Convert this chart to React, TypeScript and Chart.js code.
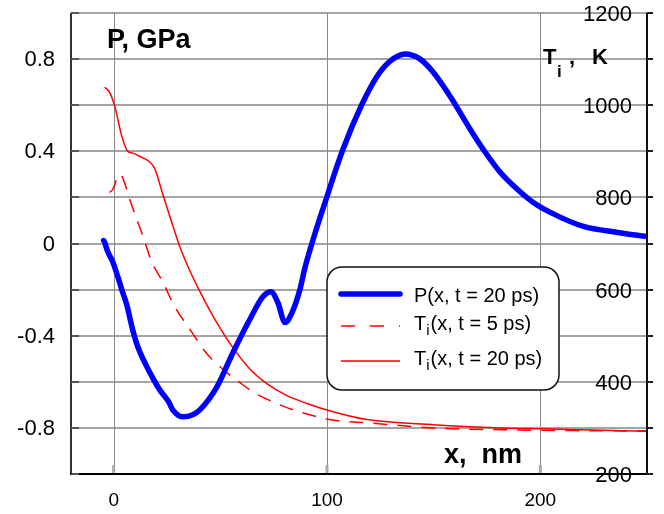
import React, { useEffect, useRef } from "react";
import { Chart, registerables } from "chart.js";

Chart.register(...registerables);

// ---- axes / ticks ----
const xTickValues = [0, 100, 200];
const pGridValues = [-1, -0.8, -0.6, -0.4, -0.2, 0, 0.2, 0.4, 0.6, 0.8, 1];
const pLabelValues = [0.8, 0.4, 0, -0.4, -0.8];
const tGridValues = [200, 300, 400, 500, 600, 700, 800, 900, 1000, 1100, 1200];
const tLabelValues = [1200, 1000, 800, 600, 400, 200];

// ---- P(x, t = 20 ps), GPa ----
const pX = [-4.7, -4.2, -2.8, -0.5, 1.9, 3.8, 6.1, 8.9, 11.3, 14.6, 18.3, 21.6, 25.8, 27.7, 32.4, 37.1, 40.4, 48.4, 55.9, 63.8, 70.0, 73.7, 77.0, 80.3, 83.6, 87.3, 89.7, 100, 107.5, 116.4, 123.5, 129.6, 136.6, 143.7, 149.8, 157.7, 167.1, 173.2, 181.2, 189.2, 196.7, 204.7, 220.2, 236.2, 250];
const pY = [0.013, 0.004, -0.035, -0.078, -0.143, -0.2, -0.265, -0.374, -0.448, -0.517, -0.583, -0.635, -0.687, -0.722, -0.752, -0.743, -0.722, -0.622, -0.474, -0.33, -0.23, -0.209, -0.257, -0.343, -0.3, -0.2, -0.104, 0.204, 0.409, 0.604, 0.726, 0.791, 0.822, 0.8, 0.743, 0.639, 0.496, 0.409, 0.309, 0.235, 0.178, 0.135, 0.074, 0.048, 0.03];

// ---- Ti(x, t = 5 ps), K ----
const ti5X = [-1.9, -0.5, 2.8, 4.2, 7.5, 13.1, 17.8, 23.0, 28.6, 36.0, 43.7, 53.1, 59.2, 65.3, 77.9, 90.6, 102.8, 118.8, 149.8, 181.2, 250];
const ti5Y = [811, 817, 850, 843, 796, 724, 661, 617, 563, 512, 461, 420, 398, 378, 350, 330, 317, 311, 300, 296, 293];

// ---- Ti(x, t = 20 ps), K ----
const ti20X = [-4.2, -1.9, 0.5, 3.8, 6.6, 8.9, 13.1, 16.0, 19.2, 23.0, 27.2, 31.0, 35.7, 40.4, 44.1, 48.4, 55.9, 63.8, 71.8, 81.2, 90.6, 102.8, 118.8, 149.8, 181.2, 200, 250];
const ti20Y = [1039, 1028, 998, 933, 900, 896, 887, 880, 863, 807, 746, 693, 641, 596, 563, 528, 474, 428, 396, 370, 353, 335, 318, 307, 300, 298, 293];

const FONT = "'Liberation Sans', Arial, sans-serif";

const seg = (ctx: any, x1: number, y1: number, x2: number, y2: number) => {
  ctx.beginPath();
  ctx.moveTo(x1, y1);
  ctx.lineTo(x2, y2);
  ctx.stroke();
};

const gridPlugin = {
  id: "hgrid",
  beforeDatasetsDraw(chart: any) {
    const { ctx, chartArea: ca, scales } = chart;
    const yP = scales.yP;
    const xs = scales.x;
    ctx.save();
    ctx.setLineDash([]);
    ctx.strokeStyle = "#a4a4a4";
    ctx.lineWidth = 2;
    pGridValues.forEach((v) => {
      const py = Math.round(yP.getPixelForValue(v));
      seg(ctx, ca.left, py, ca.right, py);
    });
    ctx.strokeStyle = "#8a8a8a";
    ctx.lineWidth = 1;
    xTickValues.forEach((v) => {
      const px = Math.round(xs.getPixelForValue(v)) + 0.5;
      seg(ctx, px, ca.top, px, ca.bottom);
    });
    ctx.restore();
  },
};

const overlayPlugin = {
  id: "overlay",
  afterDatasetsDraw(chart: any) {
    const { ctx, chartArea: ca, scales } = chart;
    const xs = scales.x;
    const yP = scales.yP;
    const yT = scales.yT;
    ctx.save();
    // axis lines
    ctx.lineCap = "butt";
    ctx.strokeStyle = "#333";
    ctx.lineWidth = 2;
    seg(ctx, ca.left, ca.top, ca.left, ca.bottom + 1);
    ctx.strokeStyle = "#111";
    seg(ctx, ca.right, ca.top, ca.right, ca.bottom + 1);
    ctx.strokeStyle = "#000";
    seg(ctx, ca.left - 1, ca.bottom, ca.right + 1, ca.bottom);
    // tick marks
    ctx.strokeStyle = "#555";
    ctx.lineWidth = 2;
    pGridValues.forEach((v) => {
      const py = Math.round(yP.getPixelForValue(v));
      seg(ctx, ca.left, py, ca.left + 8, py);
    });
    ctx.strokeStyle = "#222";
    tGridValues.forEach((v) => {
      const py = Math.round(yT.getPixelForValue(v));
      seg(ctx, ca.right, py, ca.right + 6, py);
    });
    ctx.strokeStyle = "#aaa";
    ctx.lineWidth = 3;
    xTickValues.forEach((v) => {
      const px = xs.getPixelForValue(v);
      seg(ctx, px, ca.bottom - 1, px, ca.bottom - 9);
    });

    // tick labels
    ctx.fillStyle = "#000";
    ctx.font = `22px ${FONT}`;
    ctx.textAlign = "right";
    ctx.textBaseline = "middle";
    pLabelValues.forEach((v) => {
      ctx.fillText(String(v), 55, yP.getPixelForValue(v) + 1);
    });
    tLabelValues.forEach((v) => {
      ctx.fillText(String(v), 632, yT.getPixelForValue(v) + 2);
    });
    ctx.textAlign = "center";
    ctx.font = `19px ${FONT}`;
    xTickValues.forEach((v) => {
      ctx.fillText(String(v), xs.getPixelForValue(v), 501);
    });

    // axis titles
    ctx.textBaseline = "alphabetic";
    ctx.textAlign = "left";
    ctx.font = `bold 27px ${FONT}`;
    ctx.fillText("P, GPa", 107, 48);
    ctx.fillText("x,  nm", 444, 463);
    ctx.font = `bold 22px ${FONT}`;
    ctx.fillText("T", 543, 64);
    ctx.fillText(",", 569, 64);
    ctx.fillText("K", 592, 64);
    ctx.font = `bold 17px ${FONT}`;
    ctx.fillText("i", 557, 77);

    // legend box
    const bx = 327, by = 267, bw = 232, bh = 123, r = 15;
    ctx.beginPath();
    ctx.moveTo(bx + r, by);
    ctx.lineTo(bx + bw - r, by);
    ctx.arcTo(bx + bw, by, bx + bw, by + r, r);
    ctx.lineTo(bx + bw, by + bh - r);
    ctx.arcTo(bx + bw, by + bh, bx + bw - r, by + bh, r);
    ctx.lineTo(bx + r, by + bh);
    ctx.arcTo(bx, by + bh, bx, by + bh - r, r);
    ctx.lineTo(bx, by + r);
    ctx.arcTo(bx, by, bx + r, by, r);
    ctx.closePath();
    ctx.fillStyle = "#fff";
    ctx.fill();
    ctx.strokeStyle = "#111";
    ctx.lineWidth = 1.5;
    ctx.stroke();

    // legend samples
    ctx.lineCap = "round";
    ctx.strokeStyle = "#0000ff";
    ctx.lineWidth = 5.5;
    seg(ctx, 341, 294, 400, 294);
    ctx.lineCap = "butt";
    ctx.strokeStyle = "#ff0000";
    ctx.lineWidth = 1.5;
    ctx.setLineDash([14, 15]);
    seg(ctx, 341, 326, 400, 326);
    ctx.setLineDash([]);
    seg(ctx, 341, 361, 400, 361);

    // legend text
    ctx.fillStyle = "#000";
    ctx.font = `20px ${FONT}`;
    ctx.fillText("P(x, t = 20 ps)", 414, 302);
    const subLabel = (rest: string, y: number) => {
      ctx.font = `20px ${FONT}`;
      ctx.fillText("T", 414, y);
      const tw = ctx.measureText("T").width;
      ctx.font = `15px ${FONT}`;
      ctx.fillText("i", 414 + tw, y + 5);
      const iw = ctx.measureText("i").width;
      ctx.font = `20px ${FONT}`;
      ctx.fillText(rest, 414 + tw + iw + 1, y);
    };
    subLabel("(x, t = 5 ps)", 330);
    subLabel("(x, t = 20 ps)", 365);
    ctx.restore();
  },
};

export default function App() {
  const ref = useRef<HTMLCanvasElement | null>(null);
  useEffect(() => {
    if (!ref.current) return;
    const toPts = (xs: number[], ys: number[]) => xs.map((x, i) => ({ x, y: ys[i] }));
    const chart = new Chart(ref.current, {
      type: "line",
      data: {
        datasets: [
          {
            label: "P(x, t = 20 ps)",
            data: toPts(pX, pY),
            yAxisID: "yP",
            borderColor: "#0000ff",
            borderWidth: 5.5,
            borderCapStyle: "round",
            borderJoinStyle: "round",
            pointRadius: 0,
            cubicInterpolationMode: "monotone",
          },
          {
            label: "Ti(x, t = 5 ps)",
            data: toPts(ti5X, ti5Y),
            yAxisID: "yT",
            borderColor: "#ff0000",
            borderWidth: 1.5,
            borderDash: [14, 10],
            pointRadius: 0,
            cubicInterpolationMode: "monotone",
          },
          {
            label: "Ti(x, t = 20 ps)",
            data: toPts(ti20X, ti20Y),
            yAxisID: "yT",
            borderColor: "#ff0000",
            borderWidth: 1.5,
            pointRadius: 0,
            cubicInterpolationMode: "monotone",
          },
        ],
      },
      options: {
        responsive: false,
        maintainAspectRatio: false,
        devicePixelRatio: 1,
        animation: false,
        events: [],
        layout: { padding: { left: 71, right: 17, top: 13, bottom: 40 } },
        plugins: { legend: { display: false }, tooltip: { enabled: false }, title: { display: false } },
        scales: {
          x: {
            type: "linear",
            min: -20,
            max: 250,
            afterFit: (s: any) => {
              s.height = 0;
            },
            ticks: { display: false },
            grid: { display: false, drawTicks: false },
            border: { display: false },
          },
          yP: {
            type: "linear",
            position: "left",
            min: -1,
            max: 1,
            afterFit: (s: any) => {
              s.width = 0;
            },
            ticks: { display: false },
            grid: { display: false, drawTicks: false },
            border: { display: false },
          },
          yT: {
            type: "linear",
            position: "right",
            min: 200,
            max: 1200,
            afterFit: (s: any) => {
              s.width = 0;
            },
            ticks: { display: false },
            grid: { display: false, drawTicks: false },
            border: { display: false },
          },
        },
      },
      plugins: [gridPlugin, overlayPlugin],
    } as any);
    return () => chart.destroy();
  }, []);
  return (
    <div style={{ position: "absolute", left: 0, top: 0, width: 664, height: 514, background: "#fff" }}>
      <canvas ref={ref} width={664} height={514} style={{ width: 664, height: 514, display: "block" }} />
    </div>
  );
}
